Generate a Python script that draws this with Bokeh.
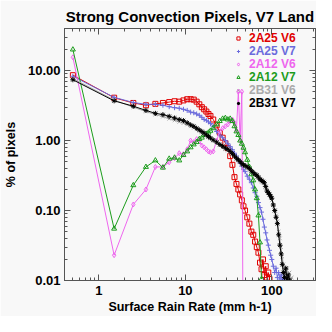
from bokeh.plotting import figure
from bokeh.models import FixedTicker, PrintfTickFormatter, LogAxis, Legend, LegendItem, CustomJSTickFormatter
from bokeh.embed import file_html
from bokeh.resources import INLINE

N = float("nan")

# Surface rain rate bin centres (mm h-1)
rain_rate = [0.5, 1.5, 2.5, 3.5, 4.5, 5.5, 6.5, 7.5, 8.5, 9.5,
             10.5, 11.5, 12.5, 13.5, 14.5, 15.5, 16.5, 17.5, 18.5, 19.5,
             21, 23, 25, 27, 29, 31, 33, 35, 37, 39, 41, 43, 45, 47, 49,
             52, 55, 58, 61, 64, 67, 70, 73, 76, 79, 82, 85, 88, 91, 94, 97, 100,
             104, 108, 112, 116, 120, 124, 128, 132, 136, 140, 145, 150, 155, 160, 165, 170, 175, 180]

pct_2a25_v6 = [8.6, 4.1, 3.45, 3.2, 3.35, 3.45, 3.55, 3.65, 3.6, 3.75,
               3.9, 3.9, 3.85, 3.6, 3.3, 3.0, 2.8, 2.6, 2.4, 2.25,
               2.0, 1.65, 1.3, 1.1, 0.92, 0.78, 0.6, 0.45, 0.3, 0.24, 0.2, 0.17, 0.14, 0.115, 0.1,
               0.08, 0.065, 0.05, 0.045, 0.036, 0.03, 0.025, 0.018, 0.0145, 0.02, 0.012, 0.016, 0.011, 0.013, 0.0105, N, N,
               N, N, N, N, N, N, N, N, N, N, N, N, N, N, N, N, N, N]

pct_2a25_v7 = [8.3, 4.15, 3.5, 3.3, 3.3, 3.2, 3.05, 2.95, 2.9, 2.8,
               2.7, 2.55, 2.5, 2.4, 2.3, 2.15, 2.0, 1.95, 1.85, 1.75,
               1.6, 1.35, 1.2, 1.1, 1.0, 0.9, 0.82, 0.74, 0.66, 0.6, 0.53, 0.48, 0.43, 0.39, 0.36,
               0.31, 0.28, 0.25, 0.21, 0.18, 0.16, 0.13, 0.11, 0.095, 0.075, 0.058, 0.048, 0.038, 0.032, 0.027, 0.023, 0.02,
               0.016, 0.013, 0.015, 0.011, 0.013, 0.0105, 0.012, 0.0102, 0.011, 0.0101, N, N, N, N, N, N, N, N]

pct_2a12_v6 = [15.5, 0.023, 0.122, 0.2, 0.42, 0.42, 0.49, 0.56, 0.66, 0.64,
               0.75, 1.0, 0.95, 1.05, 0.98, 0.85, 0.8, 0.75, 0.7, 0.68,
               0.7, 1.0, 1.35, 1.5, 1.6, 1.7, 1.9, 2.0, 1.8, 1.4, 5.0, 1.0, 5.0, 0.0001, N,
               N, N, N, N, N, N, N, N, N, N, N, N, N, N, N, N, N,
               N, N, N, N, N, N, N, N, N, N, N, N, N, N, N, N, N, N]

pct_2a12_v7 = [20.0, 0.055, 0.23, 0.42, 0.52, 0.41, 0.55, 0.57, 0.52, 0.62,
               0.7, 0.8, 0.88, 0.95, 1.05, 1.1, 1.2, 1.25, 1.3, 1.38,
               1.5, 1.7, 1.9, 2.05, 2.1, 2.0, 2.05, 1.9, 1.6, 1.35, 1.2, 1.0, 0.9, 0.79, 0.68,
               0.53, 0.42, 0.33, 0.27, 0.2, 0.15, 0.085, 0.035, 0.0105, N, N, N, N, N, N, N, N,
               N, N, N, N, N, N, N, N, N, N, N, N, N, N, N, N, N, N]

pct_2b31_v6 = [7.7, 3.8, 3.0, 2.6, 2.35, 2.2, 2.05, 1.95, 1.85, 1.78,
               1.7, 1.6, 1.52, 1.45, 1.38, 1.3, 1.24, 1.17, 1.12, 1.07,
               1.0, 0.93, 0.86, 0.8, 0.76, 0.72, 0.68, 0.63, 0.59, 0.55, 0.52, 0.49, 0.46, 0.44, 0.42,
               0.4, 0.38, 0.36, 0.34, 0.32, 0.3, 0.29, 0.27, 0.26, 0.25, 0.23, 0.21, 0.2, 0.18, 0.17, 0.15, 0.14,
               0.12, 0.1, 0.085, 0.07, 0.05, 0.04, 0.03, 0.022, 0.017, 0.014, 0.012, 0.015, 0.011, 0.013, 0.0105, 0.011, N, N]

pct_2b31_v7 = [7.4, 3.7, 3.1, 2.7, 2.45, 2.35, 2.22, 2.1, 2.0, 1.93,
               1.8, 1.68, 1.6, 1.5, 1.42, 1.35, 1.28, 1.2, 1.14, 1.09,
               1.02, 0.95, 0.88, 0.83, 0.78, 0.75, 0.7, 0.65, 0.6, 0.56, 0.53, 0.5, 0.47, 0.45, 0.44,
               0.42, 0.4, 0.37, 0.35, 0.33, 0.32, 0.3, 0.28, 0.27, 0.26, 0.25, 0.22, 0.19, 0.18, 0.17, 0.16, 0.15,
               0.12, 0.1, 0.08, 0.065, 0.045, 0.032, 0.024, 0.017, 0.013, 0.011, 0.015, 0.0105, 0.012, 0.0102, N, N, N, N]

series_names = ["2A25 V6", "2A25 V7", "2A12 V6", "2A12 V7", "2B31 V6", "2B31 V7"]
series_values = [pct_2a25_v6, pct_2a25_v7, pct_2a12_v6, pct_2a12_v7, pct_2b31_v6, pct_2b31_v7]
series_colors = ["#e00000", "#6b6bdc", "#ee66ee", "#1c9c1c", "#aaaaaa", "#000000"]
series_markers = ["square", "cross", "diamond", "triangle", "x", "asterisk"]

title_text = "Strong Convection Pixels, V7 Land"
x_label = "Surface Rain Rate (mm h-1)"
y_label = "% of pixels"
x_major = [1, 10, 100]
y_major = [0.01, 0.1, 1, 10]

FONT = "Liberation Sans"
BG = "#f8f8f8"
AXC = "#555555"

p = figure(width=316, height=316, x_axis_type="log", y_axis_type="log",
           x_range=(0.4, 320), y_range=(0.01, 40),
           output_backend="svg", toolbar_location=None,
           min_border_left=62, min_border_right=1, min_border_top=28, min_border_bottom=36,
           background_fill_color=BG, border_fill_color=BG)
p.grid.visible = False
p.outline_line_color = AXC

p.title.text = title_text
p.title.text_font = FONT
p.title.text_font_size = "15px"
p.title.text_font_style = "bold"
p.title.align = "center"
p.title.text_color = "#000000"
p.title.standoff = 8

x_minor = [m * 10 ** e for e in (-1, 0, 1, 2) for m in range(2, 10) if 0.39 <= m * 10 ** e <= 321]
y_minor = [m * 10 ** e for e in (-2, -1, 0, 1) for m in range(2, 10) if m * 10 ** e <= 41]


def style(ax):
    ax.axis_line_color = AXC
    ax.major_tick_line_color = AXC
    ax.minor_tick_line_color = AXC
    ax.major_tick_in = 6
    ax.major_tick_out = 0
    ax.minor_tick_in = 3
    ax.minor_tick_out = 0
    ax.major_label_text_font = FONT
    ax.major_label_text_font_size = "13px"
    ax.major_label_text_font_style = "bold"
    ax.major_label_text_color = "#000000"
    ax.axis_label_text_font = FONT
    ax.axis_label_text_font_size = "12.5px"
    ax.axis_label_text_font_style = "bold"
    ax.axis_label_text_color = "#000000"


xa = p.xaxis[0]
xa.ticker = FixedTicker(ticks=x_major, minor_ticks=x_minor)
xa.formatter = PrintfTickFormatter(format="%d")
style(xa)
xa.axis_label = x_label
xa.major_label_standoff = 5
xa.axis_label_standoff = 2

ya = p.yaxis[0]
ya.ticker = FixedTicker(ticks=y_major, minor_ticks=y_minor)
ya.formatter = PrintfTickFormatter(format="%.2f")
style(ya)
ya.axis_label = y_label
ya.major_label_standoff = 4
ya.axis_label_standoff = 7

for loc in ("above", "right"):
    ax = LogAxis(ticker=FixedTicker(ticks=x_major if loc == "above" else y_major,
                                    minor_ticks=x_minor if loc == "above" else y_minor),
                 formatter=CustomJSTickFormatter(code="return ''"))
    style(ax)
    ax.major_label_standoff = 0
    p.add_layout(ax, loc)

for i, (name, vals, col, mk) in enumerate(zip(series_names, series_values, series_colors, series_markers)):
    p.line(rain_rate, vals, line_color=col, line_width=1)
    r = p.scatter(rain_rate, vals, marker=mk, size=5, line_color=col, fill_alpha=0, line_width=1)
    leg = Legend(items=[LegendItem(label=name, renderers=[r])],
                 location=(170, 235 - 13 * i),
                 padding=0, margin=0, spacing=0,
                 glyph_width=8, glyph_height=12, label_height=12, label_standoff=7,
                 background_fill_alpha=0, border_line_alpha=0,
                 label_text_font=FONT, label_text_font_size="12px",
                 label_text_font_style="bold", label_text_color=col)
    p.add_layout(leg)

open("out.html", "w").write(file_html(p, INLINE))
